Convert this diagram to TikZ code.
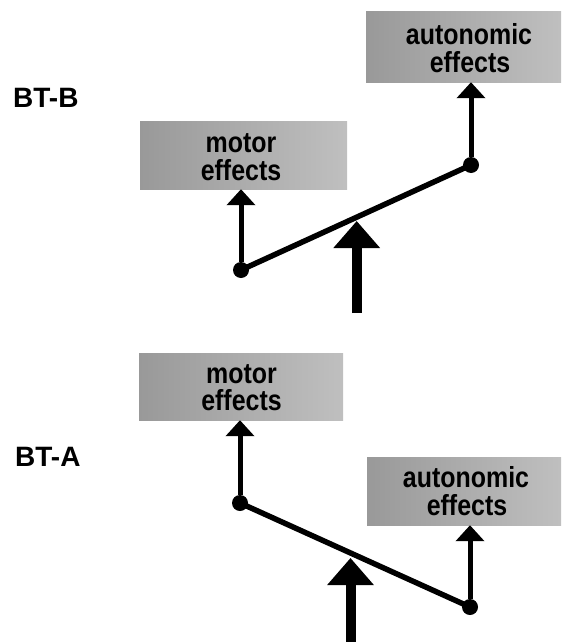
\documentclass[tikz,border=0pt]{standalone}
\usepackage{fontspec}
\usepackage{graphicx}
\setmainfont{Liberation Sans}
\usetikzlibrary{arrows.meta}
\newcommand{\nar}[1]{\scalebox{0.86}[1]{#1}}
\tikzset{
  box/.style={rectangle, draw=none, inner sep=0pt, left color=black!40, right color=black!25},
  boxtext/.style={anchor=base, inner sep=0pt, font=\fontsize{29}{29}\selectfont\bfseries},
  btlabel/.style={anchor=base west, inner sep=0pt, font=\fontsize{28}{28}\selectfont\bfseries},
  dotnode/.style={circle, fill=black, inner sep=0pt, minimum size=16pt},
  smallarr/.style={line width=5pt, -{Triangle[width=28pt,length=16pt]}},
  bigarr/.style={line width=10pt, -{Triangle[width=45pt,length=27pt]}},
  lever/.style={line width=5.5pt, line cap=round}
}
\begin{document}
\begin{tikzpicture}[x=1pt,y=-1pt]
\useasboundingbox (0,0) rectangle (564,642);
% ---------- BT-B ----------
\node[btlabel] (btb) at (13,107) {BT-B};
\node[box, minimum width=195pt, minimum height=70pt] (atop) at (463.5,47) {};
\node[boxtext] (atop1) at (469,45) {\nar{autonomic}};
\node[boxtext] (atop2) at (470,72.7) {\nar{effects}};
\node[box, minimum width=207pt, minimum height=68pt] (mtop) at (243.5,155) {};
\node[boxtext] (mtop1) at (241,152) {\nar{motor}};
\node[boxtext] (mtop2) at (241,180) {\nar{effects}};
\node[dotnode] (d1) at (241,270) {};
\node[dotnode] (d2) at (471,165) {};
\draw[lever] (d1.center) -- (d2.center);
\draw[smallarr] (d1) -- (d1 |- mtop.south);
\draw[smallarr] (d2) -- (d2 |- atop.south);
\coordinate (b1s) at (356.7,313);
\coordinate (b1t) at (356.7,221);
\draw[bigarr] (b1s) -- (b1t);
% ---------- BT-A ----------
\node[btlabel] (bta) at (15,466.7) {BT-A};
\node[box, minimum width=204pt, minimum height=67pt] (mbot) at (241,386.5) {};
\node[boxtext] (mbot1) at (241.5,383) {\nar{motor}};
\node[boxtext] (mbot2) at (241.5,410.7) {\nar{effects}};
\node[box, minimum width=194pt, minimum height=68pt] (abot) at (464,491) {};
\node[boxtext] (abot1) at (466,487.7) {\nar{autonomic}};
\node[boxtext] (abot2) at (467,515) {\nar{effects}};
\node[dotnode] (d3) at (240,503) {};
\node[dotnode] (d4) at (470,607) {};
\draw[lever] (d3.center) -- (d4.center);
\draw[smallarr] (d3) -- (d3 |- mbot.south);
\draw[smallarr] (d4) -- (d4 |- abot.south);
\coordinate (b2s) at (350.5,642);
\coordinate (b2t) at (350.5,558);
\draw[bigarr] (b2s) -- (b2t);
\end{tikzpicture}
\end{document}
